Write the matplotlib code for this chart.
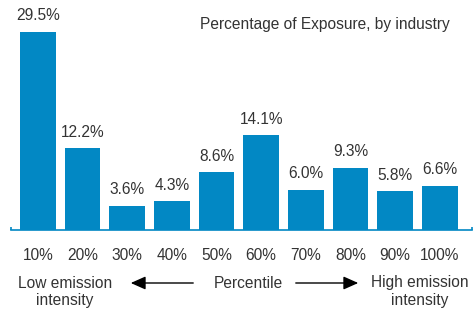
import matplotlib
matplotlib.use("Agg")
import matplotlib.pyplot as plt

categories = ["10%", "20%", "30%", "40%", "50%", "60%", "70%", "80%", "90%", "100%"]
values = [29.5, 12.2, 3.6, 4.3, 8.6, 14.1, 6.0, 9.3, 5.8, 6.6]
value_labels = ["29.5%", "12.2%", "3.6%", "4.3%", "8.6%", "14.1%", "6.0%", "9.3%", "5.8%", "6.6%"]
title = "Percentage of Exposure, by industry"

plt.rcParams['font.family'] = ['Liberation Sans', 'DejaVu Sans']
BLUE = "#0288C4"
TXT = "#333333"
FS = 11.2

W, H = 473, 312
fig = plt.figure(figsize=(W / 100, H / 100), dpi=100)
ax = fig.add_axes([11 / W, 82 / H, 461 / W, 215 / H])

x = list(range(len(categories)))
ax.bar(x, values, width=0.8, color=BLUE, zorder=2)
ax.set_xlim(-0.6, 9.72)
ax.set_ylim(0, 32)

for xi, v, lab in zip(x, values, value_labels):
    ax.annotate(lab, (xi, v), xytext=(0, 6), textcoords="offset points",
                ha="center", va="bottom", fontsize=FS, color=TXT)

for s in ["top", "right", "left"]:
    ax.spines[s].set_visible(False)
ax.spines["bottom"].set_color(BLUE)
ax.spines["bottom"].set_linewidth(1.2)
ax.set_yticks([])
ax.set_xticks(x)
ax.set_xticklabels(categories, fontsize=FS, color=TXT)
ax.tick_params(axis="x", length=0, pad=13)

# small end ticks on baseline
for xe in (-0.6, 9.72):
    ax.plot([xe, xe], [0, 0.5], color=BLUE, lw=1.2, clip_on=False, solid_capstyle="butt")

fig.text(450 / W, 1 - 25 / H, title, ha="right", va="center", fontsize=FS, color=TXT)

y1 = 1 - 283 / H
y2 = 1 - 301 / H
fig.text(65 / W, y1, "Low emission", ha="center", va="center", fontsize=FS, color=TXT)
fig.text(65 / W, y2, "intensity", ha="center", va="center", fontsize=FS, color=TXT)
fig.text(420 / W, y1, "High emission", ha="center", va="center", fontsize=FS, color=TXT)
fig.text(420 / W, y2, "intensity", ha="center", va="center", fontsize=FS, color=TXT)
fig.text(248 / W, y1, "Percentile", ha="center", va="center", fontsize=FS, color=TXT)

fig.add_artist(matplotlib.patches.FancyArrowPatch((196 / W, y1), (128 / W, y1),
               transform=fig.transFigure, arrowstyle="-|>,head_length=9,head_width=4",
               color="black", lw=1, mutation_scale=1))
fig.add_artist(matplotlib.patches.FancyArrowPatch((293 / W, y1), (361 / W, y1),
               transform=fig.transFigure, arrowstyle="-|>,head_length=9,head_width=4",
               color="black", lw=1, mutation_scale=1))

fig.savefig("out.png", dpi=100, facecolor="white")
